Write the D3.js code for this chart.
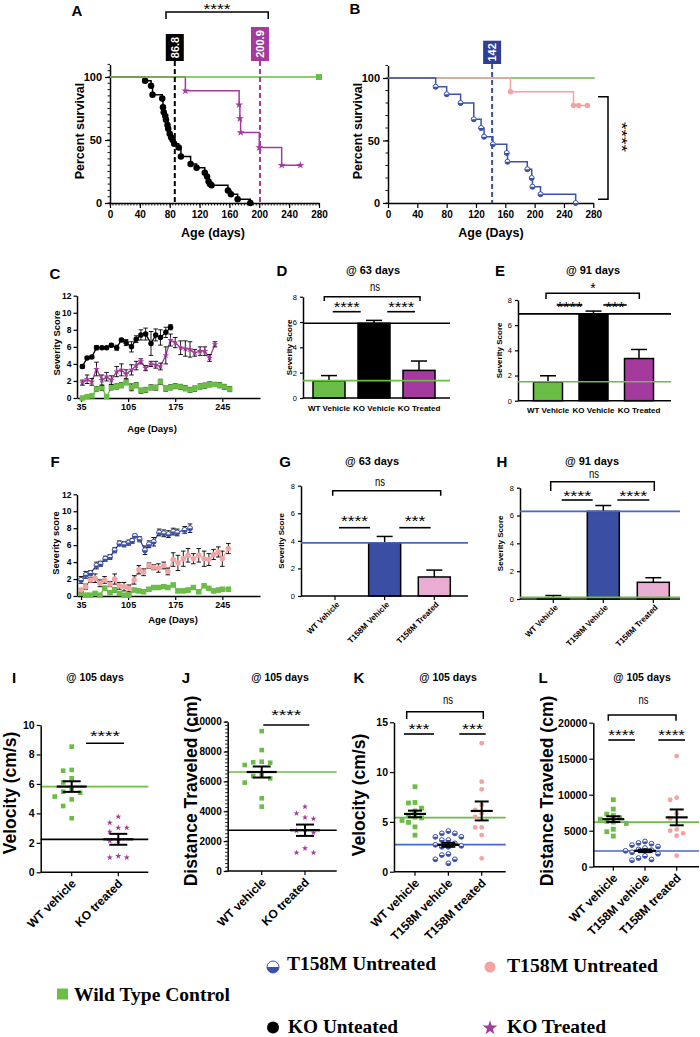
<!DOCTYPE html>
<html><head><meta charset="utf-8">
<script src="https://cdn.jsdelivr.net/npm/d3@7"></script>
<style>body{margin:0;background:#fff}</style>
</head><body>
<script>
// ================= DATA =================
// A: Kaplan-Meier (KO)  [day, percent]
const kmKOUntreated = [[0,100],[47,97],[55,93],[57,86],[70,83],[71,76],[72,72],[74,69],[75,66],[77,62],[78,59],[80,55],[82,52],[84,50],[86,47],[92,44],[95,37],[108,31],[116,28],[127,24],[130,21],[132,17],[134,15],[136,14],[158,10],[162,7],[171,3],[188,0]];
const kmKOTreated = [[0,100],[101,89],[173,78],[174,67],[175,56],[200,44],[230,30],[255,30]];
const kmWTA = [[0,100],[280,100]];
const medianA = [86.8, 200.9];
const medianALabels = ["86.8", "200.9"];
// B: Kaplan-Meier (T158M)
const kmT158MUntreated = [[0,100],[65,93],[80,87],[99,80],[117,67],[127,60],[131,53],[143,47],[162,40],[163,33],[190,27],[196,20],[197,13],[208,7],[256,0]];
const kmT158MTreated = [[0,100],[167,89],[253,78],[260,78],[272,78]];
const kmWTB = [[0,100],[282,100]];
const medianB = [142];
const medianBLabels = ["142"];
const kmTicks = [0,40,80,120,160,200,240,280];

// C: severity over time (KO)
const daysC = [37,44,51,58,66,73,80,88,95,102,110,117,124,131,139,146,153,161,168,175,183,190,197,204,212,219,226,234,241,248,256];
const sevKOVehicle = [3.7,4.7,4.8,5.9,5.9,5.9,6.2,5.9,6.8,6.5,6.0,6.9,7.4,7.5,6.4,7.4,7.1,7.7,8.3];
const sevKOVehicleErr = [0.2,0.15,0.15,0.25,0.15,0.15,0.2,0.3,0.2,0.35,0.6,0.4,0.6,0.7,1.4,0.7,0.9,0.6,0.3];
const sevKOTreated = [1.8,2.2,1.9,3.4,2.1,2.5,2.1,3.1,3.3,2.8,3.3,3.8,4.3,3.5,4.0,3.9,3.7,5.0,6.8,6.5,5.9,5.8,5.7,5.3,5.5,5.5,4.7,6.3];
const sevKOTreatedErr = [0.3,0.5,0.4,0.8,0.6,0.5,0.5,0.6,0.7,0.5,0.6,0.5,0.3,0.3,0.3,0.4,0.4,1.0,0.7,0.6,0.8,0.9,0.9,0.4,0.5,0.5,0.4,0.3];
const sevWTC = [0.0,0.15,0.25,1.05,1.2,0.15,1.25,1.35,1.5,1.85,1.25,1.5,0.85,0.95,1.25,1.2,1.9,1.1,1.25,1.4,1.3,1.15,0.95,1.1,1.35,1.45,1.6,1.6,1.5,1.3,1.05];
const sevWTCErr = [0.1,0.15,0.2,0.3,0.3,0.2,0.3,0.3,0.3,0.3,0.4,0.3,0.3,0.3,0.3,0.3,0.3,0.3,0.3,0.3,0.3,0.3,0.3,0.3,0.3,0.3,0.3,0.2,0.3,0.3,0.3];
const ageTicks = [35,105,175,245];

// F: severity over time (T158M)
const daysFVehicle = [35,42,49,58,64,71,78,85,92,99,106,111,115,122,130,136,143,151,158,165,172,178,189,197];
const sevT158MVehicle = [1.9,2.5,2.7,3.6,3.8,4.4,4.6,5.4,6.2,6.1,6.3,6.5,7.1,6.7,5.4,6.1,6.4,7.5,7.4,7.3,7.6,7.5,7.8,8.0];
const sevT158MVehicleErr = [0.4,0.4,0.3,0.4,0.3,0.3,0.3,0.3,0.3,0.3,0.3,0.3,0.2,0.3,0.5,0.4,0.5,0.4,0.4,0.4,0.4,0.4,0.4,0.5];
const daysF = [35,42,49,56,63,70,78,85,92,99,106,114,121,128,136,143,150,158,164,172,179,187,194,202,210,218,225,232,239,245,254];
const sevT158MTreated = [0.7,1.1,1.9,2.1,1.5,1.9,1.4,2.0,1.2,1.1,0.9,1.9,3.1,2.8,3.6,3.4,3.3,3.6,2.9,4.3,3.9,4.4,4.8,4.4,4.8,4.4,4.3,4.9,5.2,4.4,5.6];
const sevT158MTreatedErr = [0.2,0.3,0.3,0.5,0.4,0.4,0.3,0.6,0.4,0.5,0.4,0.5,0.5,0.4,0.3,0.3,0.5,0.4,0.4,0.8,0.9,0.9,0.8,0.6,0.8,0.9,0.7,0.6,0.6,0.9,0.6];
const sevWTF = [0.3,0.1,0.1,0.3,0.1,0.9,0.4,0.7,0.3,0.1,0.1,0.7,0.6,0.5,0.8,1.0,1.0,1.1,1.0,1.3,0.6,0.6,0.7,1.0,0.5,1.2,0.9,0.6,0.7,0.8,0.8];
const sevWTFErr = [0.15,0.1,0.1,0.2,0.1,0.25,0.2,0.25,0.2,0.1,0.1,0.2,0.2,0.2,0.2,0.2,0.2,0.2,0.2,0.2,0.2,0.2,0.2,0.2,0.2,0.2,0.2,0.2,0.2,0.2,0.2];

// D / E: bar charts (KO)
const barCatsKO = ["WT Vehicle","KO Vehicle","KO Treated"];
const bar63KO = [1.35,5.9,2.18];
const bar63KOErr = [0.42,0.23,0.74];
const bar91KO = [1.48,6.9,3.35];
const bar91KOErr = [0.5,0.22,0.72];
const ref63KO = [5.9,1.37];
const ref91KO = [6.9,1.5];
// G / H: bar charts (T158M)
const barCatsT = ["WT Vehicle","T158M Vehicle","T158M Treated"];
const bar63T = [0,3.85,1.38];
const bar63TErr = [0,0.47,0.5];
const bar91T = [0.08,6.3,1.2];
const bar91TErr = [0.17,0.42,0.33];
const ref63T = [3.85];
const ref91T = [6.3,0.12];
const sevTicks = [0,2,4,6,8];

// I / J: scatter (KO)
const scatCatsKO = ["WT vehicle","KO treated"];
const velWT = [8.53,6.95,6.9,6.38,6.1,5.63,5.4,5.47,5.14,4.95,4.5,3.67];
const velKOTreated = [3.78,3.37,3.03,2.76,3.03,2.13,2.13,1.0,1.1,1.0];
const velMeanI = [5.82,2.24];
const velSemI = [0.36,0.37];
const refI = [5.82,2.24];
const distWT = [9370,8100,7320,7280,7250,7100,6430,6360,6200,5920,4870,4310];
const distKOTreated = [4310,3860,3500,3590,2700,2570,1230,1520,1230,2750];
const distMeanJ = [6630,2730];
const distSemJ = [370,380];
const refJ = [6630,2730];
// K / L: scatter (T158M)
const scatCatsT = ["WT vehicle","T158M vehicle","T158M treated"];
const velT158MVehicle = [4.08,3.85,3.85,3.5,3.5,3.18,3.18,2.85,2.7,2.6,2.5,2.5,1.77,1.67,1.24,1.24,0.84];
const velT158MTreated = [12.9,9.04,8.27,6.7,6.2,5.86,5.5,4.45,4.45,3.68,1.34];
const velMeanK = [5.8,2.7,6.1];
const velSemK = [0.33,0.2,0.95];
const refK = [5.42,2.71];
const distWTL = [9300,8000,7300,7100,6800,6600,6300,6200,6000,5200,4860,4260];
const distT158MVehicle = [3500,3300,3200,3000,2800,2600,2400,2300,2200,2000,1800,1500,1200,1000,900];
const distT158MTreated = [15370,9580,9300,7400,6700,5180,5000,4630,4300,1530];
const distMeanL = [6600,2200,6850];
const distSemL = [400,180,1100];
const refL = [6200,2180];

const legendLabels = ["Wild Type Control","T158M Untreated","T158M Untreated","KO Unteated","KO Treated"];

// ================= DRAWING =================
const W=700,H=1037;
const GREEN="#6abd45", MAG="#a4399e", BLUE="#3a4ea3", BLUEL="#4866c6", KMBLUE="#3b50a8", PINK="#f4a2a2", PINKBAR="#e9acd3";
const SANS="'Liberation Sans', Arial, Helvetica, sans-serif";
const SERIF="'Liberation Serif','Times New Roman',serif";
const svg=d3.select("body").append("svg").attr("width",W).attr("height",H).style("display","block");
svg.append("rect").attr("width",W).attr("height",H).attr("fill","#fff");
const intFmt=d3.format("d");

function txt(x,y,s,o={}){
  const t=svg.append("text").attr("x",x).attr("y",y).text(s)
    .attr("font-family",o.family||SANS).attr("font-size",o.size||10)
    .attr("font-weight",o.weight||"bold").attr("fill",o.fill||"#000")
    .attr("text-anchor",o.anchor||"middle");
  if(o.rotate!=null) t.attr("transform",`rotate(${o.rotate},${x},${y})`);
  if(o.baseline) t.attr("dominant-baseline",o.baseline);
  if(o.len) t.attr("textLength",o.len).attr("lengthAdjust","spacingAndGlyphs");
  return t;
}
function ln(x1,y1,x2,y2,o={}){
  const l=svg.append("line").attr("x1",x1).attr("y1",y1).attr("x2",x2).attr("y2",y2)
    .attr("stroke",o.color||"#000").attr("stroke-width",o.w||1.5);
  if(o.dash) l.attr("stroke-dasharray",o.dash);
  return l;
}
function styleAxis(g,o){
  g.select(".domain").attr("stroke","#000").attr("stroke-width",o.dw||1.5);
  g.selectAll(".tick line").attr("stroke","#000").attr("stroke-width",o.tw||1.2);
  g.selectAll(".tick text").attr("font-family",SANS).attr("font-size",o.fs||9)
    .attr("font-weight",o.fw||"bold").attr("fill","#000");
}
function yAxis(scale,x,ticks,o={}){
  const ax=d3.axisLeft(scale).tickValues(ticks).tickSize(o.ts||4).tickSizeOuter(0).tickPadding(o.pad||2);
  ax.tickFormat(o.fmt||intFmt);
  const g=svg.append("g").attr("transform",`translate(${x},0)`).call(ax);
  styleAxis(g,o);
  if(o.minor){
    svg.append("g").selectAll("line").data(o.minor).join("line")
      .attr("x1",x).attr("x2",x-(o.mts||2.5)).attr("y1",d=>scale(d)).attr("y2",d=>scale(d))
      .attr("stroke","#000").attr("stroke-width",0.9);
  }
  return g;
}
function xAxis(scale,y,ticks,o={}){
  const ax=d3.axisBottom(scale).tickValues(ticks).tickSize(o.ts||4).tickSizeOuter(0).tickPadding(o.pad||2);
  ax.tickFormat(o.fmt||intFmt);
  const g=svg.append("g").attr("transform",`translate(0,${y})`).call(ax);
  styleAxis(g,o);
  if(o.minor){
    svg.append("g").selectAll("line").data(o.minor).join("line")
      .attr("y1",y).attr("y2",y+(o.mts||2.5)).attr("x1",d=>scale(d)).attr("x2",d=>scale(d))
      .attr("stroke","#000").attr("stroke-width",0.9);
  }
  return g;
}
function marker(type,x,y,s,color){
  if(type==="square"){
    svg.append("rect").attr("x",x-s/2).attr("y",y-s/2).attr("width",s).attr("height",s).attr("fill",color);
  } else if(type==="circle"){
    svg.append("circle").attr("cx",x).attr("cy",y).attr("r",s/2).attr("fill",color);
  } else if(type==="star"){
    svg.append("path").attr("d",d3.symbol(d3.symbolStar,s*s*0.55)()).attr("transform",`translate(${x},${y})`).attr("fill",color);
  } else if(type==="half"){
    const r=s/2;
    const g=svg.append("g").attr("transform",`translate(${x},${y})`);
    g.append("circle").attr("r",r).attr("fill","#fff").attr("stroke",color).attr("stroke-width",1);
    g.append("path").attr("d",`M${-r},0A${r},${r} 0 0 0 ${r},0Z`).attr("fill",color);
  }
}
function bracket(x1,x2,yTop,yBot){
  svg.append("path").attr("d",`M${x1},${yBot}V${yTop}H${x2}V${yBot}`).attr("fill","none").attr("stroke","#000").attr("stroke-width",1.5);
}
function sig(x1,x2,y,label,base,len,size){
  ln(x1,y,x2,y,{w:1.6});
  txt((x1+x2)/2,base,label,{size:size||14,weight:"normal",len:len});
}
function nsLabel(x,base){ txt(x,base,"ns",{size:13,weight:"normal",len:10}); }

// ---------- Panel letters & titles ----------
const letters=[["A",77,16],["B",355,14],["C",55,279],["D",282,276],["E",500,276],["F",55,467],["G",285,467],["H",502,467],["I",14,683],["J",186,683],["K",359,683],["L",543,683]];
letters.forEach(([l,x,y])=>txt(x,y,l,{size:15}));
[["@ 63 days",373,274],["@ 91 days",593,274],["@ 63 days",372,464.5],["@ 91 days",592,464.5],
 ["@ 105 days",95,681],["@ 105 days",280,681],["@ 105 days",448,681],["@ 105 days",642,681]]
 .forEach(([s,x,y])=>txt(x,y,s,{size:s.includes("105")?10.5:11}));

// ---------- Panel A ----------
{
  const x=d3.scaleLinear().domain([0,280]).range([110,319]);
  const y=d3.scaleLinear().domain([0,110]).range([203,64.4]);
  yAxis(y,110,[0,50,100],{fs:11,ts:5,pad:3,minor:d3.range(0,111,5)});
  xAxis(x,203,kmTicks,{fs:10,ts:5,pad:3,minor:d3.range(0,281,4)});
  const step=d3.line().curve(d3.curveStepAfter).x(d=>x(d[0])).y(d=>y(d[1]));
  svg.append("path").attr("d",step(kmKOUntreated)).attr("fill","none").attr("stroke","#000").attr("stroke-width",1.5);
  kmKOUntreated.slice(1).forEach(d=>marker("circle",x(d[0]),y(d[1]),6.5,"#000"));
  svg.append("path").attr("d",step(kmKOTreated)).attr("fill","none").attr("stroke",MAG).attr("stroke-width",1.5);
  kmKOTreated.slice(1).forEach(d=>marker("star",x(d[0]),y(d[1]),6,MAG));
  svg.append("path").attr("d",d3.line().x(d=>x(d[0])).y(d=>y(d[1]))(kmWTA)).attr("fill","none").attr("stroke",GREEN).attr("stroke-width",1.6);
  marker("square",x(kmWTA[1][0]),y(kmWTA[1][1]),6,GREEN);
  const cols=["#000",MAG], tops=[34,27];
  medianA.forEach((m,i)=>{
    ln(x(m),61,x(m),203,{color:cols[i],w:2,dash:"5,3"});
    svg.append("rect").attr("x",x(m)-9).attr("y",tops[i]).attr("width",18).attr("height",61-tops[i]).attr("fill",cols[i]);
    txt(x(m),(tops[i]+61)/2,medianALabels[i],{size:11,fill:"#fff",rotate:-90,baseline:"central"});
  });
  bracket(x(75),x(212),12,19);
  txt(x(143.5),14,"****",{size:14,weight:"normal",len:27});
  txt(84,131,"Percent survival",{size:12.5,rotate:-90});
  txt(213,237,"Age (days)",{size:12.5});
}
// ---------- Panel B ----------
{
  const x=d3.scaleLinear().domain([0,280]).range([388,593.3]);
  const y=d3.scaleLinear().domain([0,110]).range([203,65.5]);
  yAxis(y,388,[0,50,100],{fs:11,ts:5,pad:3,minor:d3.range(0,111,10)});
  xAxis(x,203,kmTicks,{fs:10,ts:5,pad:3});
  const step=d3.line().curve(d3.curveStepAfter).x(d=>x(d[0])).y(d=>y(d[1]));
  svg.append("path").attr("d",d3.line().x(d=>x(d[0])).y(d=>y(d[1]))(kmWTB)).attr("fill","none").attr("stroke",GREEN).attr("stroke-width",1.6);
  svg.append("path").attr("d",step(kmT158MTreated)).attr("fill","none").attr("stroke",PINK).attr("stroke-width",1.5);
  kmT158MTreated.slice(1).forEach(d=>marker("circle",x(d[0]),y(d[1]),5.5,PINK));
  svg.append("path").attr("d",step(kmT158MUntreated)).attr("fill","none").attr("stroke",KMBLUE).attr("stroke-width",1.5);
  kmT158MUntreated.slice(1).forEach(d=>marker("half",x(d[0]),y(d[1]),5,KMBLUE));
  medianB.forEach((m,i)=>{
    ln(x(m),64,x(m),203,{color:KMBLUE,w:2,dash:"5,3"});
    svg.append("rect").attr("x",x(m)-9).attr("y",40.7).attr("width",18).attr("height",23.3).attr("fill","#2d3f96");
    txt(x(m),52.3,medianBLabels[i],{size:11,fill:"#fff",rotate:-90,baseline:"central"});
  });
  svg.append("path").attr("d",`M598,${y(85)}H608V${y(3)}H598`).attr("fill","none").attr("stroke","#000").attr("stroke-width",1.5);
  txt(617,137,"****",{size:14,weight:"normal",rotate:90,len:30});
  txt(362,131,"Percent survival",{size:12.5,rotate:-90});
  txt(491,237,"Age (Days)",{size:12.5});
}
// ---------- Severity line charts (C & F) ----------
function sevSeries(days,vals,errs,x,y,color,type,size){
  const pts=vals.map((v,i)=>({x:x(days[i]),y:y(v),lo:y(Math.max(0,v-errs[i])),hi:y(v+errs[i])}));
  svg.append("path").attr("d",d3.line().x(d=>d.x).y(d=>d.y)(pts)).attr("fill","none").attr("stroke",color).attr("stroke-width",1.3);
  pts.forEach(p=>{
    ln(p.x,p.lo,p.x,p.hi,{w:0.9});
    ln(p.x-2.3,p.hi,p.x+2.3,p.hi,{w:0.9});
    ln(p.x-2.3,p.lo,p.x+2.3,p.lo,{w:0.9});
  });
  pts.forEach(p=>marker(type,p.x,p.y,size,color));
}
{
  const x=d3.scaleLinear().domain([29,301]).range([77,260]);
  const y=d3.scaleLinear().domain([0,12]).range([398,295.7]);
  yAxis(y,77,d3.range(0,13,2),{fs:8.5,ts:3.5});
  xAxis(x,398,ageTicks,{fs:9,ts:4});
  sevSeries(daysC,sevWTC,sevWTCErr,x,y,GREEN,"square",5.5);
  sevSeries(daysC,sevKOTreated,sevKOTreatedErr,x,y,MAG,"star",5);
  sevSeries(daysC,sevKOVehicle,sevKOVehicleErr,x,y,"#000","circle",5.5);
  txt(60,343,"Severity Score",{size:9.4,rotate:-90});
  txt(152,432,"Age (Days)",{size:9.5});
}
{
  const x=d3.scaleLinear().domain([29,301]).range([77,260]);
  const y=d3.scaleLinear().domain([0,12]).range([596,494.3]);
  yAxis(y,77,d3.range(0,13,2),{fs:8.5,ts:3.5});
  xAxis(x,596,ageTicks,{fs:9,ts:4});
  sevSeries(daysF,sevWTF,sevWTFErr,x,y,GREEN,"square",5.5);
  sevSeries(daysF,sevT158MTreated,sevT158MTreatedErr,x,y,PINK,"circle",5.5);
  sevSeries(daysFVehicle,sevT158MVehicle,sevT158MVehicleErr,x,y,KMBLUE,"half",5);
  txt(59,543,"Severity score",{size:9.3,rotate:-90});
  txt(173,623,"Age (Days)",{size:9.5});
}
// ---------- Bar charts ----------
function barPanel(o){
  const y=d3.scaleLinear().domain([0,8]).range([o.y0,o.y8]);
  const x=d3.scalePoint().domain(o.cats).range(o.cx);
  o.vals.forEach((v,i)=>{
    const cx=x(o.cats[i]);
    if(v>0){
      ln(cx,y(v),cx,y(v+o.errs[i]),{w:1.5});
      ln(cx-8,y(v+o.errs[i]),cx+8,y(v+o.errs[i]),{w:1.5});
      svg.append("rect").attr("x",cx-o.bw/2).attr("y",y(v)).attr("width",o.bw).attr("height",y(0)-y(v))
        .attr("fill",o.fills[i]).attr("stroke","#000").attr("stroke-width",1.5);
    }
  });
  yAxis(y,o.ax0,sevTicks,{fs:7.5,fw:"normal",ts:3,pad:3});
  ln(o.ax0,y(0),o.ax1,y(0),{w:1.5});
  if(o.xticks) o.cats.forEach(c=>ln(x(c),y(0),x(c),y(0)+4,{w:1.2}));
  o.refs.forEach((r,i)=>ln(o.ax0,y(r),o.ax1,y(r),{color:o.refCols[i],w:1.6}));
  if(o.rot){
    o.cats.forEach(c=>txt(x(c)+5,y(0)+9,c,{size:8,anchor:"end",rotate:-45}));
  } else {
    o.cats.forEach(c=>txt(x(c),y(0)+12.5,c,{size:8}));
  }
  txt(o.labX,(o.y0+o.y8)/2,"Severity Score",{size:8,rotate:-90});
}
barPanel({cats:barCatsKO,vals:bar63KO,errs:bar63KOErr,y0:398,y8:296.7,cx:[329,419],bw:32,ax0:303,ax1:450,
  fills:[GREEN,"#000",MAG],refs:ref63KO,refCols:["#000",GREEN],labX:292});
barPanel({cats:barCatsKO,vals:bar91KO,errs:bar91KOErr,y0:400.7,y8:300,cx:[548,639],bw:29,ax0:518,ax1:671,
  fills:[GREEN,"#000",MAG],refs:ref91KO,refCols:["#000",GREEN],labX:502});
barPanel({cats:barCatsT,vals:bar63T,errs:bar63TErr,y0:596,y8:485.7,cx:[335,434.3],bw:32,ax0:301,ax1:468,
  fills:[GREEN,BLUE,PINKBAR],refs:ref63T,refCols:[BLUEL],labX:284.5,rot:true,xticks:true});
barPanel({cats:barCatsT,vals:bar91T,errs:bar91TErr,y0:599,y8:487.7,cx:[553.3,653.3],bw:32,ax0:520,ax1:680,
  fills:["#2f6b2a",BLUE,PINKBAR],refs:ref91T,refCols:[BLUEL,GREEN],labX:503,rot:true,xticks:true});
// D annotations
bracket(324.3,420,296.7,301); nsLabel(375,290.5);
sig(332.7,360.7,311.7,"****",312,26); sig(387.3,415,311.7,"****",312,26);
// E annotations
bracket(546,639.3,293.3,299); txt(593,293,"*",{size:14,weight:"normal"});
sig(556.7,582.3,305,"****",312,25.7); sig(603.3,626.7,305,"***",312,19);
// G annotations
bracket(332.7,440.7,490.7,495.7); nsLabel(380,485.5);
sig(339,370,527.7,"****",526,27); sig(399.3,430.7,527.7,"***",526,20.7);
// H annotations
bracket(550.7,654.3,481.7,491); nsLabel(594,477.5);
sig(561.7,592.7,500,"****",501,28); sig(617.3,649.3,500,"****",501,28);

// ---------- Scatter panels ----------
function swarm(vals,cx,y,step){
  const placed=[],res=new Array(vals.length);
  vals.map((v,i)=>({v,i})).sort((a,b)=>b.v-a.v).forEach(({v,i})=>{
    const py=y(v); let off=0;
    for(let k=0;k<25;k++){
      const o=k===0?0:(k%2?-Math.ceil(k/2):Math.ceil(k/2))*step;
      if(placed.every(p=>Math.hypot(p.x-(cx+o),p.y-py)>=step*0.95)){off=o;break;}
    }
    placed.push({x:cx+off,y:py}); res[i]={x:cx+off,y:py};
  });
  return res;
}
function scatterPanel(o){
  const y=d3.scaleLinear().domain(o.dom).range(o.yr);
  const x=d3.scalePoint().domain(o.cats).range(o.cx);
  o.refs.forEach((r,i)=>ln(o.ax0,y(r),o.ax1,y(r),{color:o.refCols[i],w:1.7}));
  o.groups.forEach((vals,gi)=>{
    const cx=x(o.cats[gi]);
    swarm(vals,cx,y,o.step).forEach(p=>marker(o.types[gi],p.x,p.y,o.msize,o.cols[gi]));
  });
  o.means.forEach((m,gi)=>{
    const cx=x(o.cats[gi]), s=o.sems[gi];
    ln(cx-o.mw,y(m),cx+o.mw,y(m),{w:2.2});
    ln(cx,y(m-s),cx,y(m+s),{w:2});
    ln(cx-o.cw,y(m-s),cx+o.cw,y(m-s),{w:2});
    ln(cx-o.cw,y(m+s),cx+o.cw,y(m+s),{w:2});
  });
  yAxis(y,o.ax0,o.ticks,{fs:o.fs,ts:4,pad:2,minor:o.minor,mts:2.5});
  ln(o.ax0,o.yr[0],o.ax1,o.yr[0],{w:1.5});
  o.cats.forEach(c=>{
    ln(x(c),o.yr[0],x(c),o.yr[0]+4,{w:1.2});
    txt(x(c)+5,o.yr[0]+12,c,{size:12,anchor:"end",rotate:-45});
  });
  txt(o.labX,o.labY,o.label,{size:17.5,rotate:-90});
}
scatterPanel({dom:[0,10],yr:[872.3,725],cats:scatCatsKO,cx:[71.7,118.3],ax0:40.7,ax1:148.3,
  groups:[velWT,velKOTreated],types:["square","star"],cols:[GREEN,MAG],msize:4.6,step:8.5,
  means:velMeanI,sems:velSemI,mw:15,cw:9,refs:refI,refCols:[GREEN,"#000"],ticks:[0,2,4,6,8,10],fs:10.5,
  label:"Velocity (cm/s)",labX:16,labY:793});
scatterPanel({dom:[0,10000],yr:[871,721.7],cats:scatCatsKO,cx:[261.7,305],ax0:227.7,ax1:336.7,
  groups:[distWT,distKOTreated],types:["square","star"],cols:[GREEN,MAG],msize:4.6,step:8.5,
  means:distMeanJ,sems:distSemJ,mw:15,cw:9,refs:refJ,refCols:[GREEN,"#000"],ticks:[0,2000,4000,6000,8000,10000],fs:10,
  minor:d3.range(0,10001,250),label:"Distance Traveled (cm)",labX:197,labY:791});
scatterPanel({dom:[0,15],yr:[871.7,722.3],cats:scatCatsT,cx:[415,481.7],ax0:394,ax1:505.7,
  groups:[velWT,velT158MVehicle,velT158MTreated],types:["square","half","circle"],cols:[GREEN,KMBLUE,PINK],msize:4.8,step:6.5,
  means:velMeanK,sems:velSemK,mw:11,cw:7,refs:refK,refCols:[GREEN,BLUEL],ticks:[0,5,10,15],fs:10.5,
  label:"Velocity (cm/s)",labX:365,labY:795});
scatterPanel({dom:[0,20000],yr:[866.7,722.7],cats:scatCatsT,cx:[613.3,676.7],ax0:593.3,ax1:699,
  groups:[distWTL,distT158MVehicle,distT158MTreated],types:["square","half","circle"],cols:[GREEN,KMBLUE,PINK],msize:4.8,step:6.5,
  means:distMeanL,sems:distSemL,mw:11,cw:7,refs:refL,refCols:[GREEN,BLUEL],ticks:[0,5000,10000,15000,20000],fs:10.5,
  label:"Distance Traveled (cm)",labX:553,labY:791});
// scatter annotations
sig(86,124,743.3,"****",741,30);
sig(263.3,309.3,725,"****",720,30);
bracket(406.7,483.3,711.7,719); nsLabel(448,703.5);
sig(404,434,734,"***",734,21); sig(459.3,485.7,734,"***",734,21);
bracket(608.3,676,715,720.7); nsLabel(643.5,703.5);
sig(608.3,635,740,"****",740,26.7); sig(658.3,685,740,"****",740,26.7);

// ---------- Legend ----------
{
  const items=[
    {t:"square",c:GREEN,mx:62.5,my:994,s:11,tx:74,ty:1000.7,len:156},
    {t:"half",c:KMBLUE,mx:273,my:967,s:12,tx:287,ty:970,len:149},
    {t:"circle",c:PINK,mx:490,my:967,s:11,tx:507,ty:971.5,len:151},
    {t:"circle",c:"#000",mx:273,my:1027.5,s:12,tx:288,ty:1032.5,len:110},
    {t:"star",c:MAG,mx:490,my:1028,s:11,tx:507,ty:1032.5,len:99}
  ];
  items.forEach((it,i)=>{
    marker(it.t,it.mx,it.my,it.s,it.c);
    txt(it.tx,it.ty,legendLabels[i],{family:SERIF,size:19.5,anchor:"start",len:it.len});
  });
}
</script>
</body></html>
